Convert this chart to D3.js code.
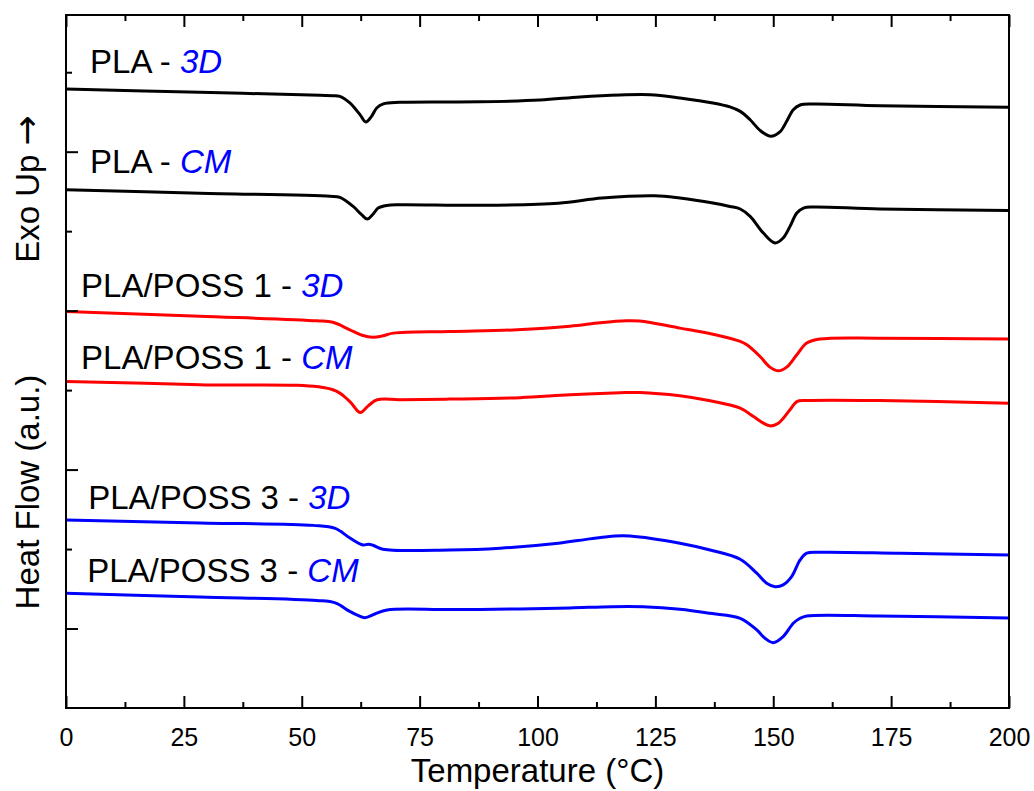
<!DOCTYPE html>
<html>
<head>
<meta charset="utf-8">
<script src="https://cdn.jsdelivr.net/npm/d3@7/dist/d3.min.js"></script>
<style>
  html, body { margin: 0; padding: 0; background: #fff; }
  svg { display: block; }
  text { font-family: "Liberation Sans", Arial, sans-serif; }
</style>
</head>
<body>
<svg id="chart" width="1034" height="791"></svg>
<script>
// DSC heating scans: temperature (°C) vs. heat flow (a.u., curves offset vertically)
const pla3D_T = [0, 28.4, 53.9, 56.6, 58.1, 60.2, 62.35, 63.6, 64.8, 65.9, 67.3, 70.8, 87.8, 100.5, 109.0, 117.5, 123.9, 130.2, 137.2, 140.8, 143.0, 145.1, 147.2, 149.5, 151.4, 152.85, 154.25, 155.7, 158.5, 172.6, 200];
const pla3D_H = [7.789, 7.748, 7.710, 7.705, 7.696, 7.613, 7.466, 7.374, 7.445, 7.550, 7.601, 7.621, 7.627, 7.649, 7.689, 7.714, 7.718, 7.676, 7.613, 7.563, 7.507, 7.402, 7.268, 7.193, 7.248, 7.382, 7.529, 7.588, 7.601, 7.579, 7.560];

const plaCM_T = [0, 28.4, 56.0, 58.1, 60.9, 62.7, 63.9, 65.2, 66.2, 68.0, 70.8, 87.8, 104.4, 113.7, 124.9, 130.2, 137.2, 140.8, 143.0, 145.1, 147.9, 150.4, 152.1, 153.55, 155.0, 156.4, 158.5, 172.6, 200];
const plaCM_H = [6.522, 6.478, 6.440, 6.425, 6.311, 6.207, 6.153, 6.219, 6.291, 6.324, 6.333, 6.326, 6.352, 6.417, 6.446, 6.417, 6.354, 6.311, 6.279, 6.186, 5.976, 5.851, 5.914, 6.060, 6.228, 6.291, 6.304, 6.279, 6.261];

const poss1_3D_T = [0, 28.4, 53.2, 56.6, 60.2, 62.8, 65.1, 67.2, 69.4, 81.4, 95.7, 106.9, 113.3, 118.8, 121.7, 130.2, 137.7, 143.0, 144.4, 147.2, 149.3, 151.1, 152.85, 155.0, 157.1, 159.9, 172.6, 200];
const poss1_3D_H = [4.989, 4.929, 4.872, 4.853, 4.759, 4.690, 4.665, 4.683, 4.717, 4.738, 4.759, 4.803, 4.847, 4.872, 4.869, 4.780, 4.696, 4.612, 4.570, 4.423, 4.289, 4.243, 4.289, 4.444, 4.592, 4.642, 4.654, 4.642];

const poss1_CM_T = [0, 28.4, 56.6, 60.2, 62.4, 64.1, 66.0, 70.8, 81.4, 96.3, 106.9, 117.5, 121.7, 130.2, 136.6, 143.0, 145.8, 147.9, 149.3, 151.1, 153.55, 155.0, 157.1, 172.6, 200];
const poss1_CM_H = [4.108, 4.067, 4.004, 3.856, 3.718, 3.802, 3.878, 3.880, 3.887, 3.905, 3.941, 3.966, 3.970, 3.928, 3.865, 3.773, 3.667, 3.584, 3.550, 3.584, 3.752, 3.856, 3.869, 3.869, 3.836];

const poss3_3D_T = [0, 28.4, 52.4, 57.1, 60.2, 63.0, 64.1, 65.1, 67.2, 81.4, 92.1, 104.4, 111.1, 116.4, 119.6, 130.2, 136.6, 143.0, 146.5, 148.6, 150.4, 152.1, 153.9, 155.7, 157.1, 159.9, 176.9, 200];
const poss3_3D_H = [2.367, 2.329, 2.298, 2.260, 2.140, 2.052, 2.061, 2.048, 1.998, 1.989, 2.011, 2.074, 2.128, 2.165, 2.165, 2.074, 1.989, 1.872, 1.696, 1.570, 1.527, 1.549, 1.653, 1.863, 1.948, 1.960, 1.948, 1.926];

const poss3_CM_T = [0, 28.4, 53.2, 57.1, 60.2, 61.9, 63.4, 65.5, 68.1, 81.4, 96.3, 106.9, 115.8, 122.4, 130.2, 136.6, 143.0, 146.5, 148.25, 150.0, 152.1, 154.25, 155.7, 157.1, 172.6, 200];
const poss3_CM_H = [1.444, 1.397, 1.353, 1.322, 1.215, 1.165, 1.137, 1.183, 1.234, 1.238, 1.246, 1.259, 1.275, 1.274, 1.243, 1.192, 1.129, 0.982, 0.878, 0.822, 0.898, 1.066, 1.129, 1.158, 1.158, 1.133];

const sampleNames = ["PLA", "PLA", "PLA/POSS 1", "PLA/POSS 1", "PLA/POSS 3", "PLA/POSS 3"];
const processNames = ["3D", "CM", "3D", "CM", "3D", "CM"];

const xTicks = [0, 25, 50, 75, 100, 125, 150, 175, 200];
const xMinorTicks = [12.5, 37.5, 62.5, 87.5, 112.5, 137.5, 162.5, 187.5];
const yMajorTicks = [1, 3, 5, 7];
const yMinorTicks = [2, 4, 6, 8];

const xTitle = "Temperature (\u00B0C)";
const yTitleMain = "Heat Flow (a.u.)";
const yTitleExo = "Exo Up ";
const yTitleArrow = "\u2192";

// ---- layout ----
const plot = { left: 66, right: 1009, top: 15, bottom: 708 };
const sampleColors = ["#000000", "#000000", "#ff0000", "#ff0000", "#0000ff", "#0000ff"];
const processColor = "#0000ff";
// label anchors (temperature, heat-flow units)
const labelAnchors = [[5.1, 7.99], [5.1, 6.73], [3.2, 5.17], [3.2, 4.26], [4.7, 2.50], [4.5, 1.59]];

const svg = d3.select("#chart");

const x = d3.scaleLinear().domain([0, 200]).range([plot.left, plot.right]);
const y = d3.scaleLinear().domain([0, 8.72]).range([plot.bottom, plot.top]);

const series = [
  [pla3D_T, pla3D_H],
  [plaCM_T, plaCM_H],
  [poss1_3D_T, poss1_3D_H],
  [poss1_CM_T, poss1_CM_H],
  [poss3_3D_T, poss3_3D_H],
  [poss3_CM_T, poss3_CM_H]
];

const line = d3.line()
  .x(d => x(d[0]))
  .y(d => y(d[1]))
  .curve(d3.curveCatmullRom.alpha(0.5));

svg.append("clipPath").attr("id", "plot-clip")
  .append("rect")
  .attr("x", plot.left).attr("y", plot.top)
  .attr("width", plot.right - plot.left).attr("height", plot.bottom - plot.top);

svg.append("g").attr("clip-path", "url(#plot-clip)")
  .selectAll("path.curve")
  .data(series)
  .join("path")
  .attr("class", "curve")
  .attr("d", s => line(s[0].map((t, i) => [t, s[1][i]])))
  .attr("fill", "none")
  .attr("stroke", (s, i) => sampleColors[i])
  .attr("stroke-width", 3)
  .attr("stroke-linejoin", "round")
  .attr("stroke-linecap", "round");

// curve labels
const labels = svg.append("g").attr("font-size", 33);
sampleNames.forEach((name, i) => {
  const t = labels.append("text")
    .attr("x", x(labelAnchors[i][0]))
    .attr("y", y(labelAnchors[i][1]))
    .attr("fill", "#000");
  t.append("tspan").text(name + " - ");
  t.append("tspan").attr("fill", processColor).attr("font-style", "italic").text(processNames[i]);
});

// axes: ticks point inward
function styleAxis(g) {
  g.select(".domain").remove();
  g.selectAll(".tick line").attr("stroke", "#000").attr("stroke-width", 2);
}

svg.append("g")
  .attr("transform", `translate(0,${plot.bottom})`)
  .call(d3.axisBottom(x).tickValues(xTicks).tickSize(-12).tickPadding(20).tickFormat(d3.format("d")))
  .call(styleAxis)
  .call(g => g.selectAll(".tick text").attr("font-size", 25).attr("fill", "#000")
    .attr("font-family", "'Liberation Sans', Arial, sans-serif"));

svg.append("g")
  .attr("transform", `translate(0,${plot.bottom})`)
  .call(d3.axisBottom(x).tickValues(xMinorTicks).tickSize(-6).tickFormat(""))
  .call(styleAxis);

svg.append("g")
  .attr("transform", `translate(0,${plot.top})`)
  .call(d3.axisTop(x).tickValues(xTicks).tickSize(-12).tickFormat(""))
  .call(styleAxis);

svg.append("g")
  .attr("transform", `translate(0,${plot.top})`)
  .call(d3.axisTop(x).tickValues(xMinorTicks).tickSize(-6).tickFormat(""))
  .call(styleAxis);

svg.append("g")
  .attr("transform", `translate(${plot.left},0)`)
  .call(d3.axisLeft(y).tickValues(yMajorTicks).tickSize(-12).tickFormat(""))
  .call(styleAxis);

svg.append("g")
  .attr("transform", `translate(${plot.left},0)`)
  .call(d3.axisLeft(y).tickValues(yMinorTicks).tickSize(-6).tickFormat(""))
  .call(styleAxis);

// frame
svg.append("rect")
  .attr("x", plot.left).attr("y", plot.top)
  .attr("width", plot.right - plot.left).attr("height", plot.bottom - plot.top)
  .attr("fill", "none").attr("stroke", "#000").attr("stroke-width", 2);

// axis titles
svg.append("text")
  .attr("x", (plot.left + plot.right) / 2).attr("y", 782)
  .attr("text-anchor", "middle").attr("font-size", 33).attr("fill", "#000")
  .text(xTitle);

svg.append("text")
  .attr("transform", "translate(39,492) rotate(-90)")
  .attr("text-anchor", "middle").attr("font-size", 33).attr("fill", "#000")
  .text(yTitleMain);

const ex = svg.append("text")
  .attr("transform", "translate(39,189) rotate(-90)")
  .attr("text-anchor", "middle").attr("font-size", 33).attr("fill", "#000");
ex.append("tspan").text(yTitleExo);
ex.append("tspan").attr("font-family", "'DejaVu Sans', sans-serif").attr("font-size", 36).text(yTitleArrow);
</script>
</body>
</html>
